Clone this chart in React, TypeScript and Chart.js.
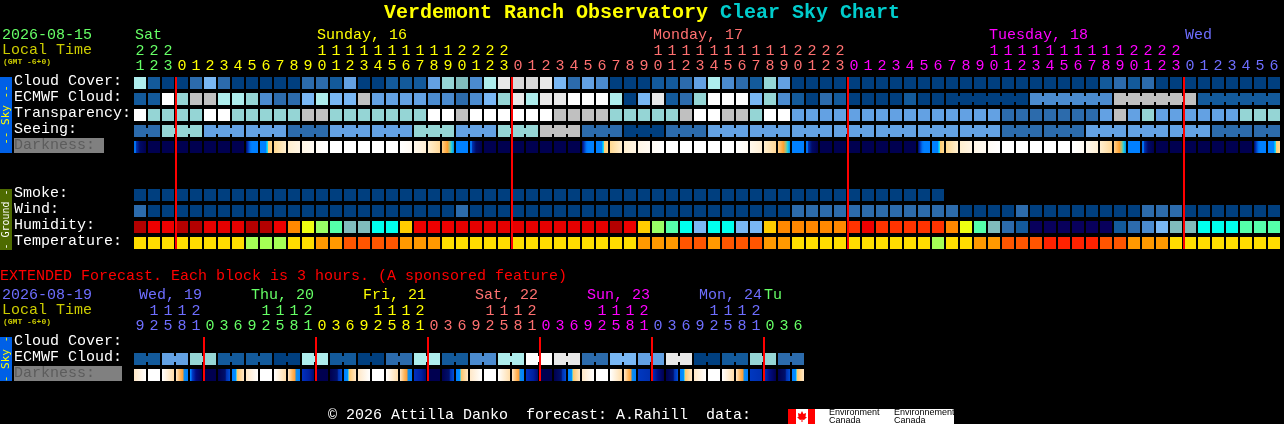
import React, { useEffect, useRef } from "react";
import Chart from "chart.js/auto";

// ---------- data: main forecast (one value per hour column) ----------
const hoursMain = [21,22,23,0,1,2,3,4,5,6,7,8,9,10,11,12,13,14,15,16,17,18,19,20,21,22,23,0,1,2,3,4,5,6,7,8,9,10,11,12,13,14,15,16,17,18,19,20,21,22,23,0,1,2,3,4,5,6,7,8,9,10,11,12,13,14,15,16,17,18,19,20,21,22,23,0,1,2,3,4,5,6];
const rowLabelsMain = ["Cloud Cover:","ECMWF Cloud:","Transparency:","Seeing:","Darkness:","","","Smoke:","Wind:","Humidity:","Temperature:"];
const dayNamesMain = ["Sat","Sunday, 16","Monday, 17","Tuesday, 18","Wed"];
const dayColsMain = [0,13,37,61,75];
const dayStartsMain = [0,3,27,51,75];
const midnightsMain = [3,27,51,75];
const dayColorsMain = ["#66FF66","#FFFF00","#FF7070","#FF00FF","#6E6EFF"];

const cloudCover = [8,1,0,0,2,5,2,0,0,0,0,0,2,2,1,4,0,0,1,1,1,4,6,7,3,8,11,10,10,11,5,2,4,3,0,0,0,1,1,2,4,8,3,2,1,6,4,0,0,0,0,0,0,0,0,0,0,0,0,0,0,0,0,0,0,0,0,0,0,1,2,1,2,0,0,0,0,0,0,0,0,0];
const ecmwfCloud = [1,1,12,6,9,9,8,8,6,3,2,2,5,8,5,5,9,4,4,4,4,3,3,2,3,5,6,11,8,11,11,12,12,12,8,0,5,11,1,2,6,12,12,12,5,6,3,1,0,2,1,0,0,0,0,1,0,0,0,0,0,0,0,0,3,3,3,3,3,3,9,9,9,9,9,9,1,1,1,1,1,1];
const ecmwfGroups = [[58,63],[64,69],[70,75],[76,81]];
const transparency = [12,6,6,6,6,12,12,6,6,6,6,6,9,9,6,6,6,6,6,6,6,12,12,9,12,12,12,12,12,12,9,9,9,9,6,6,6,6,6,9,12,12,9,9,6,12,12,4,4,4,4,4,4,4,4,4,4,4,4,4,4,4,2,2,2,2,2,2,2,4,9,4,6,4,4,4,4,4,4,6,6,6];
const seeing = [2,2,6,6,6,4,4,4,4,4,4,2,2,2,4,4,4,4,4,4,6,6,6,4,4,4,6,6,6,9,9,9,2,2,2,0,0,0,2,2,2,4,4,4,4,4,4,4,4,4,4,4,4,4,4,4,4,4,4,4,4,4,2,2,2,2,2,2,4,4,4,4,4,4,4,4,4,2,2,2,2,2];
const seeingGroups = [[0,1],[2,4],[5,7],[8,10],[11,13],[14,16],[17,19],[20,22],[23,25],[26,28],[29,31],[32,34],[35,37],[38,40],[41,43],[44,46],[47,49],[50,52],[53,55],[56,58],[59,61],[62,64],[65,67],[68,70],[71,73],[74,76],[77,79],[80,81]];
const darkness = [12,0,0,0,0,0,0,0,1,2,3,4,5,6,7,7,7,7,7,13,8,9,10,11,12,0,0,0,0,0,0,0,1,2,3,4,5,6,7,7,7,7,7,13,8,9,10,11,12,0,0,0,0,0,0,0,1,2,3,4,5,6,7,7,7,7,7,13,8,9,10,11,12,0,0,0,0,0,0,0,1,2];
const smoke = [0,0,0,0,0,0,0,0,0,0,0,0,0,0,0,0,0,0,0,0,0,0,0,0,0,0,0,0,0,0,0,0,0,0,0,0,0,0,0,0,0,0,0,0,0,0,0,0,0,0,0,0,0,0,0,0,0,0];
const wind = [2,0,0,0,0,0,0,0,0,0,0,0,0,0,0,0,0,0,0,0,0,0,0,2,0,0,0,0,0,0,0,0,0,0,0,0,0,0,0,0,0,0,0,0,0,0,0,2,2,2,2,2,2,2,2,2,2,2,2,0,0,0,0,2,0,0,0,0,0,0,0,0,2,2,2,0,0,0,0,0,0,0];
const humidity = [15,13,13,15,15,14,14,14,15,15,13,11,9,8,7,5,5,6,6,10,13,13,13,14,14,14,14,14,14,14,14,14,14,14,15,13,10,8,7,6,4,6,6,4,4,10,11,11,11,11,11,12,13,12,12,12,12,12,11,9,7,5,2,1,0,0,0,0,0,0,1,2,3,4,5,5,6,6,6,7,7,7];
const temperature = [1,1,1,1,1,1,1,1,0,0,0,1,1,2,2,3,3,3,3,2,2,2,1,1,1,1,1,1,1,1,1,1,1,1,1,1,2,2,2,3,3,2,3,3,3,2,2,1,1,1,1,1,1,1,1,1,1,0,1,1,2,2,3,3,3,4,4,4,4,3,3,2,2,2,1,1,1,1,1,1,1,1];

// ---------- data: extended forecast ----------
const hoursExt = [9,12,15,18,21,0,3,6,9,12,15,18,21,0,3,6,9,12,15,18,21,0,3,6,9,12,15,18,21,0,3,6,9,12,15,18,21,0,3,6,9,12,15,18,21,0,3,6];
const rowLabelsExt = ["Cloud Cover:","ECMWF Cloud:","Darkness:"];
const dayNamesExt = ["Wed, 19","Thu, 20","Fri, 21","Sat, 22","Sun, 23","Mon, 24","Tu"];
const dayColsExt = [0.36,8.36,16.36,24.36,32.36,40.36,45];
const dayStartsExt = [0,5,13,21,29,37,45];
const midnightsExt = [5,13,21,29,37,45];
const dayColorsExt = ["#6E6EFF","#66FF66","#FFFF00","#FF7070","#FF00FF","#6E6EFF","#66FF66"];
const extEcmwf = [1,4,6,1,1,0,8,1,0,2,8,1,3,8,12,11,2,5,4,11,0,1,6,2];
const extDarkness = [14,7,15,16,17,0,18,19,14,7,15,16,20,0,18,19,14,7,15,16,20,0,18,19,14,7,15,16,20,0,18,19,14,7,15,16,21,22,18,19,14,7,15,16,21,22,18,19];

// ---------- colour tables ----------
const cloudPalette = ["#003F7F","#135A9B","#2C6BAC","#4B8BCF","#63A1E3","#79B7F4","#95D5D5","#80BCBC","#AEEDED","#C0C0C0","#D8D8D8","#E8E8E8","#FFFFFF"];
const humidityPalette = ["#08005C","#135A9B","#2C6BAC","#4B8BCF","#79B7F4","#80BCBC","#00FFEE","#55FFAA","#99FF66","#EEFF11","#FFCC00","#FF8800","#FF3300","#EE0000","#E60000","#B30000"];
const temperaturePalette = ["#A5FF55","#FFDD00","#FF9900","#FF5500","#FF2200"];
const ramps: [number,string][][] = [
  [[0,"#000050"],[1,"#000050"]],
  [[0,"#000A66"],[0.15,"#0030B0"],[0.35,"#0070F0"],[0.5,"#0080FF"],[1,"#0080FF"]],
  [[0,"#0080FF"],[0.5,"#0080FF"],[0.55,"#00C0FF"],[0.65,"#30E0E0"],[0.7,"#FFCC70"],[1,"#FFD890"]],
  [[0,"#FFD890"],[1,"#FFEFD0"]],
  [[0,"#FFEFCF"],[1,"#FFF5E4"]],
  [[0,"#FFF6E6"],[1,"#FFFAF2"]],
  [[0,"#FFFBF5"],[1,"#FFFFFF"]],
  [[0,"#FFFFFF"],[1,"#FFFFFF"]],
  [[0,"#FFF8EC"],[1,"#FFEFD4"]],
  [[0,"#FFEFD0"],[1,"#FFD898"]],
  [[0,"#FFD088"],[0.45,"#FFA030"],[0.65,"#A0C080"],[0.8,"#20D0E0"],[1,"#0090F0"]],
  [[0,"#0080FF"],[1,"#0080FF"]],
  [[0,"#0070F0"],[0.15,"#0070F0"],[0.2,"#0030B0"],[0.5,"#000A66"],[1,"#000050"]],
  [[0,"#FFFFFF"],[1,"#FFFAF2"]],
  [[0,"#FFE8C8"],[1,"#FFFFFF"]],
  [[0,"#FFFFFF"],[1,"#FFDDAA"]],
  [[0,"#FFE8C8"],[0.35,"#FFB860"],[0.6,"#FF9A30"],[0.65,"#1090E8"],[1,"#0080FF"]],
  [[0,"#0080FF"],[0.1,"#0080FF"],[0.15,"#0040D0"],[0.5,"#000A80"],[1,"#000050"]],
  [[0,"#000050"],[0.6,"#00106A"],[0.7,"#0030B0"],[1,"#0050D8"]],
  [[0,"#0080FF"],[0.3,"#0090FF"],[0.35,"#30D0F0"],[0.45,"#FFC870"],[1,"#FFE8C8"]],
  [[0,"#0030C0"],[0.6,"#0020A0"],[1,"#000A70"]],
  [[0,"#0038C0"],[1,"#0030B0"]],
  [[0,"#0030C0"],[0.5,"#000C80"],[1,"#000050"]],
];

const MONO = '"Liberation Mono"';
const BLOCK = 12;
const COL_CENTER = 3 / 7;   // block centre inside a column
const GAP_CENTER = 13 / 14; // gap between neighbouring blocks
const INSET = 0.125;
const LINK = 0.3125;

const blocks = (row: number, values: number[], palette: string[]) => ({
  type: "bar" as const, order: 2, grouped: false, barThickness: BLOCK, inflateAmount: 0, borderWidth: 0,
  data: values.map((_, i) => ({ x: i + COL_CENTER, y: [row + INSET, row + 1 - INSET] })),
  backgroundColor: values.map((v) => palette[v]),
});
const links = (row: number, values: number[], groups: number[][], palette: string[]) => {
  const cols: number[] = [];
  groups.forEach(([a, b]) => { for (let c = a; c < b; c++) cols.push(c); });
  return {
    type: "bar" as const, order: 2, grouped: false, barThickness: 2, inflateAmount: 0, borderWidth: 0,
    data: cols.map((c) => ({ x: c + GAP_CENTER, y: [row + LINK, row + 1 - LINK] })),
    backgroundColor: cols.map((c) => palette[values[c]]),
  };
};
const ramped = (row: number, values: number[]) => ({
  type: "bar" as const, order: 2, grouped: false, barThickness: BLOCK, inflateAmount: 0, borderWidth: 0,
  data: values.map((_, i) => ({ x: i + COL_CENTER, y: [row + INSET, row + 1 - INSET] })),
  backgroundColor: (ctx: any) => {
    if (ctx.dataIndex === undefined || !ctx.chart.scales.x) return "#000";
    const px = ctx.chart.scales.x.getPixelForValue(ctx.dataIndex + COL_CENTER);
    if (!Number.isFinite(px)) return "#000";
    const g = ctx.chart.ctx.createLinearGradient(px - BLOCK / 2, 0, px + BLOCK / 2, 0);
    ramps[values[ctx.dataIndex]].forEach(([p, c]) => g.addColorStop(p, c));
    return g;
  },
});
const redLines = (cols: number[], rows: number) => ({
  type: "bar" as const, order: 0, grouped: false, barThickness: 2, inflateAmount: 0, borderWidth: 0,
  data: cols.map((c) => ({ x: c, y: [INSET, rows - INSET] })),
  backgroundColor: "#FF0000",
});

const put = (ctx: CanvasRenderingContext2D, s: string, x: number, y: number, color: string, font = `15px ${MONO}`) => {
  ctx.font = font; ctx.fillStyle = color; ctx.textBaseline = "middle"; ctx.textAlign = "left";
  ctx.fillText(s, x, y);
};
const tag = (ctx: CanvasRenderingContext2D, s: string, top: number, bottom: number, bg: string, fg: string, size: number) => {
  ctx.fillStyle = bg; ctx.fillRect(0, top, 12, bottom - top);
  ctx.save();
  ctx.translate(6, (top + bottom) / 2); ctx.rotate(-Math.PI / 2);
  ctx.font = `${size}px "DejaVu Sans Mono"`; ctx.fillStyle = fg; ctx.textAlign = "center"; ctx.textBaseline = "middle";
  ctx.fillText(s, 0, 0);
  ctx.restore();
};
const colorFor = (starts: number[], colors: string[], c: number) => {
  let k = 0;
  starts.forEach((s, i) => { if (c >= s) k = i; });
  return colors[k];
};

const makeOptions = (opts: any) => ({
  responsive: false, animation: false as const, devicePixelRatio: 1, events: [] as any[],
  layout: { padding: { left: 14, right: opts.right, top: 0, bottom: opts.bottom } },
  plugins: { legend: { display: false }, tooltip: { enabled: false }, title: { display: false } },
  scales: {
    x: {
      type: "linear" as const, position: "top" as const, min: 0, max: opts.cols, offset: false,
      grid: { display: false, drawTicks: false }, border: { display: false },
      afterFit: (s: any) => { s.height = opts.areaTop; },
      ticks: {
        stepSize: 1, autoSkip: false, maxTicksLimit: 500, maxRotation: 0, minRotation: 0, labelOffset: 6, padding: 1,
        font: { family: MONO, size: 15, lineHeight: 1 },
        color: (c: any) => colorFor(opts.starts, opts.colors, c.index),
        callback: (_: any, i: number) => {
          const h = opts.hours[i];
          if (h === undefined) return "";
          return [h >= 10 ? String(Math.floor(h / 10)) : " ", String(h % 10)];
        },
      },
    },
    y: {
      type: "linear" as const, reverse: true, min: 0, max: opts.rows.length, offset: false,
      grid: { display: false, drawTicks: false }, border: { display: false },
      afterFit: (s: any) => { s.width = 120; },
      ticks: {
        stepSize: 1, autoSkip: false, maxTicksLimit: 50, crossAlign: "far" as const, labelOffset: 6, padding: 0,
        font: { family: MONO, size: 15, lineHeight: 1 },
        color: (c: any) => (opts.rows[c.tick.value] === "Darkness:" ? "#5C5C5C" : "#FFFFFF"),
        callback: (v: any) => opts.rows[v] ?? "",
      },
    },
  },
});

export default function App() {
  const mainRef = useRef<HTMLCanvasElement>(null);
  const extRef = useRef<HTMLCanvasElement>(null);

  useEffect(() => {
    const main = new Chart(mainRef.current!, {
      type: "bar",
      data: {
        datasets: [
          redLines(midnightsMain, rowLabelsMain.length),
          blocks(0, cloudCover, cloudPalette),
          blocks(1, ecmwfCloud, cloudPalette),
          links(1, ecmwfCloud, ecmwfGroups, cloudPalette),
          blocks(2, transparency, cloudPalette),
          blocks(3, seeing, cloudPalette),
          links(3, seeing, seeingGroups, cloudPalette),
          ramped(4, darkness),
          blocks(7, smoke, cloudPalette),
          blocks(8, wind, cloudPalette),
          blocks(9, humidity, humidityPalette),
          blocks(10, temperature, temperaturePalette),
        ] as any,
      },
      options: makeOptions({ right: 2, bottom: 173, areaTop: 75, cols: 82, hours: hoursMain, rows: rowLabelsMain, starts: dayStartsMain, colors: dayColorsMain }) as any,
      plugins: [{
        id: "mainText",
        beforeDraw(chart: any) {
          const ctx = chart.ctx;
          ctx.fillStyle = "#808080"; ctx.fillRect(14, 138, 90, 15);
          tag(ctx, "-- Sky --", 77, 153, "#0060E6", "#FFFF00", 11);
          tag(ctx, "- Ground -", 189, 250, "#4E6B00", "#FFFFFF", 10);
        },
        afterDraw(chart: any) {
          const ctx = chart.ctx;
          const bold = `bold 20px ${MONO}`;
          put(ctx, "Verdemont Ranch Observatory", 384, 13, "#FFFF00", bold);
          put(ctx, "Clear Sky Chart", 720, 13, "#00CCCC", bold);
          put(ctx, "2026-08-15", 2, 35, "#66FF66");
          put(ctx, "Local Time", 2, 50, "#CCCC00");
          put(ctx, "(GMT -6+0)", 3, 62, "#CCCC00", `bold 8px ${MONO}`);
          dayNamesMain.forEach((d, i) => put(ctx, d, chart.scales.x.getPixelForValue(dayColsMain[i]) + 1, 35, dayColorsMain[i]));
        },
      }],
    });

    const extCols = extEcmwf.flatMap((v) => [v, v]);
    const ext = new Chart(extRef.current!, {
      type: "bar",
      data: {
        datasets: [
          redLines(midnightsExt, rowLabelsExt.length),
          blocks(1, extCols, cloudPalette),
          links(1, extCols, extEcmwf.map((_, i) => [2 * i, 2 * i + 1]), cloudPalette),
          ramped(2, extDarkness),
        ] as any,
      },
      options: makeOptions({ right: 478, bottom: 41, areaTop: 335, cols: 48, hours: hoursExt, rows: rowLabelsExt, starts: dayStartsExt, colors: dayColorsExt }) as any,
      plugins: [{
        id: "extText",
        beforeDraw(chart: any) {
          const ctx = chart.ctx;
          ctx.fillStyle = "#808080"; ctx.fillRect(14, 366, 108, 15);
          tag(ctx, "- Sky -", 337, 381, "#0060E6", "#FFFF00", 11);
        },
        afterDraw(chart: any) {
          const ctx = chart.ctx;
          put(ctx, "EXTENDED Forecast. Each block is 3 hours. (A sponsored feature)", 0, 276, "#FF0000");
          put(ctx, "2026-08-19", 2, 295, "#6E6EFF");
          put(ctx, "Local Time", 2, 310, "#CCCC00");
          put(ctx, "(GMT -6+0)", 3, 322, "#CCCC00", `bold 8px ${MONO}`);
          dayNamesExt.forEach((d, i) => put(ctx, d, chart.scales.x.getPixelForValue(dayColsExt[i]), 295, dayColorsExt[i]));
          put(ctx, "© 2026 Attilla Danko  forecast: A.Rahill  data:", 328, 415, "#FFFFFF");
          // Environment Canada signature
          ctx.fillStyle = "#FFFFFF"; ctx.fillRect(788, 409, 166, 15);
          ctx.fillStyle = "#FF0000"; ctx.fillRect(788, 409, 8, 15); ctx.fillRect(808, 409, 7, 15);
          ctx.beginPath();
          [[802,411],[803.5,414],[806,413],[805.5,417],[807,417],[804,420],[802.5,419.5],[802.5,422],[801.5,422],[801.5,419.5],[800,420],[797,417],[798.5,417],[798,413],[800.5,414]].forEach(([x,y],i)=> i ? ctx.lineTo(x,y) : ctx.moveTo(x,y));
          ctx.closePath(); ctx.fill();
          const small = '9px "Liberation Sans"';
          put(ctx, "Environment", 829, 413, "#000000", small);
          put(ctx, "Canada", 829, 420.5, "#000000", small);
          put(ctx, "Environnement", 894, 413, "#000000", small);
          put(ctx, "Canada", 894, 420.5, "#000000", small);
        },
      }],
    });
    return () => { main.destroy(); ext.destroy(); };
  }, []);

  const full: React.CSSProperties = { position: "absolute", left: 0, top: 0 };
  return (
    <div style={{ position: "fixed", left: 0, top: 0, width: 1284, height: 424, background: "#000", overflow: "hidden" }}>
      <canvas ref={mainRef} width={1284} height={424} style={full} />
      <canvas ref={extRef} width={1284} height={424} style={full} />
    </div>
  );
}
